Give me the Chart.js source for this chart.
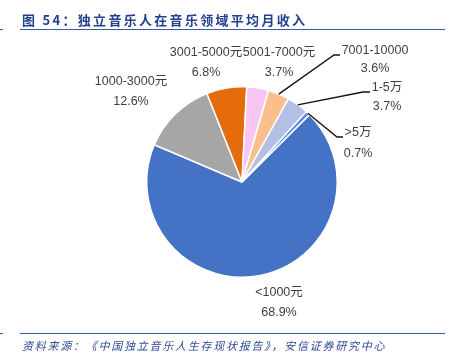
<!DOCTYPE html>
<html>
<head>
<meta charset="utf-8">
<script src="https://cdn.jsdelivr.net/npm/chart.js@4"></script>
<style>
  html, body { margin: 0; padding: 0; background: #fff; }
  #wrap { position: relative; width: 457px; height: 360px; overflow: hidden; }
  #pie { position: absolute; left: 0; top: 0; }
  .title {
    position: absolute; left: 22px; top: 10px;
    font: bold 13px "Noto Sans CJK SC", sans-serif; color: #24408e;
    letter-spacing: 2.3px; white-space: nowrap;
  }
  .source {
    position: absolute; left: 22px; top: 337px;
    font: italic 11px "Noto Sans CJK SC", sans-serif; color: #2e4a96;
    letter-spacing: 1.75px; white-space: nowrap;
  }
  .rule { position: absolute; left: 20px; width: 425px; height: 1px; background: #3b5aa6; }
  .tick { position: absolute; left: 0; width: 3px; height: 1px; background: #3b5aa6; }
</style>
</head>
<body>
<div id="wrap">
  <canvas id="pie" width="457" height="360"></canvas>
  <div class="title">图 54：独立音乐人在音乐领域平均月收入</div>
  <div class="rule" style="top:29px"></div>
  <div class="tick" style="top:29px"></div>
  <div class="rule" style="top:333px"></div>
  <div class="tick" style="top:333px"></div>
  <div class="source">资料来源：《中国独立音乐人生存现状报告》，安信证券研究中心</div>
</div>
<script>
// ===============================
// DATA
// ===============================

const categories = ["<1000元", "1000-3000元", "3001-5000元", "5001-7000元", "7001-10000", "1-5万", ">5万"];
const shares = [68.9, 12.6, 6.8, 3.7, 3.6, 3.7, 0.7];
const shareLabels = ["68.9%", "12.6%", "6.8%", "3.7%", "3.6%", "3.7%", "0.7%"];
const sliceColors = ["#4472c4", "#a6a6a6", "#e46c0a", "#f9c5f3", "#f9c08e", "#b4bfe6", "#4a86e8"];

// label placement (center x, y of name line, y of value line) and leader elbows
const labelLayout = [
  { x: 279, y1: 293, y2: 313 },
  { x: 131, y1: 82, y2: 102 },
  { x: 206, y1: 53, y2: 73 },
  { x: 279, y1: 53, y2: 73 },
  { x: 375, y1: 51, y2: 69, elbow: [334, 55], end: [340, 55] },
  { x: 387, y1: 88, y2: 107, elbow: [363, 92], end: [370, 92] },
  { x: 358, y1: 133, y2: 154, elbow: [337, 137], end: [343, 137] }
];

// ===============================
// LABEL PLUGIN
// ===============================

const outsideLabels = {
  id: "outsideLabels",
  afterDraw(chart) {
    const ctx = chart.ctx;
    const arcs = chart.getDatasetMeta(0).data;
    ctx.save();
    arcs.forEach((arc, i) => {
      const lay = labelLayout[i];
      if (lay.elbow) {
        const mid = (arc.startAngle + arc.endAngle) / 2;
        const r = arc.outerRadius;
        ctx.beginPath();
        ctx.moveTo(arc.x + Math.cos(mid) * r, arc.y + Math.sin(mid) * r);
        ctx.lineTo(lay.elbow[0], lay.elbow[1]);
        ctx.lineTo(lay.end[0], lay.end[1]);
        ctx.strokeStyle = "#111";
        ctx.lineWidth = 1.3;
        ctx.stroke();
      }
      ctx.fillStyle = "#404040";
      ctx.font = '12.5px "Liberation Sans", "Noto Sans CJK SC", sans-serif';
      ctx.textAlign = "center";
      ctx.textBaseline = "middle";
      ctx.fillText(categories[i], lay.x, lay.y1);
      ctx.fillText(shareLabels[i], lay.x, lay.y2);
    });
    ctx.restore();
  }
};

// ===============================
// CHART
// ===============================

new Chart(document.getElementById("pie"), {
  type: "pie",
  data: {
    labels: categories,
    datasets: [{
      data: shares,
      backgroundColor: sliceColors,
      borderColor: "#ffffff",
      borderWidth: 1.5
    }]
  },
  options: {
    responsive: false,
    animation: false,
    rotation: 45,
    layout: { padding: { left: 146, right: 119, top: 86, bottom: 82 } },
    plugins: {
      legend: { display: false },
      tooltip: { enabled: false }
    }
  },
  plugins: [outsideLabels]
});
</script>
</body>
</html>
